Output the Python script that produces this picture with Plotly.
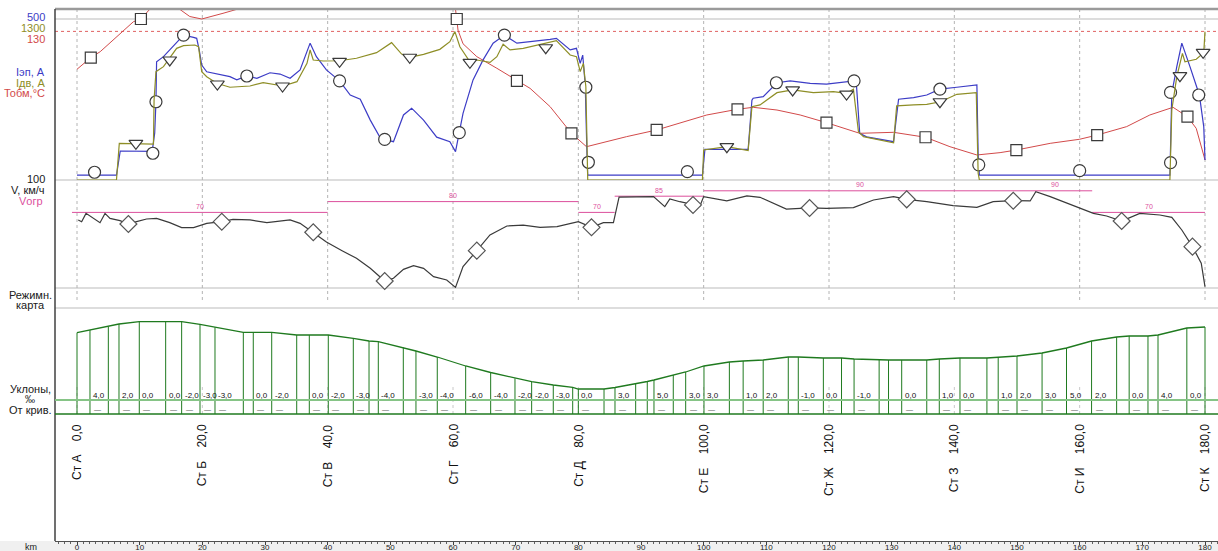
import plotly.graph_objects as go

# ---------------- data ----------------
# Iэп, A (electric locomotive current) vs km
iep_km = [0, 6.3, 6.9, 11.65, 12.0, 12.4, 12.6, 12.7, 13.8, 14.8, 16.2, 17.0, 18.6, 19.1, 19.5, 19.9,
          20.7, 22.3, 24.4, 25.5, 27.1, 28.7, 30.8, 32.4, 34.0, 35.6, 37.2, 38.2, 39.8, 41.9, 43.6,
          45.2, 46.8, 48.3, 49.1, 50.5, 52.1, 53.4, 55.3, 57.4, 59.5, 60.4, 61.0, 61.6, 63.2, 64.8,
          66.4, 68.2, 70.2, 72.8, 75.5, 76.5, 78.7, 79.7, 80.3, 80.7, 81.1, 81.4, 81.5, 99.8, 100.2,
          103.7, 107.1, 107.7, 107.9, 109.5, 111.7, 113.8, 117.0, 119.6, 122.3, 124.0, 124.4, 124.9,
          126.0, 130.3, 131.1, 133.5, 135.6, 137.7, 140.4, 143.6, 143.8, 144.0, 174.4, 174.7, 175.5,
          176.3, 177.6, 179.1, 179.8, 180]
iep_a = [15, 15, 90, 90, 89, 146, 243, 367, 383, 404, 435, 450, 443, 440, 404, 357,
         336, 329, 321, 311, 323, 316, 333, 329, 316, 342, 425, 383, 342, 308, 264,
         251, 186, 134, 126, 119, 202, 223, 186, 133, 119, 88, 147, 207, 311, 373,
         425, 450, 425, 430, 437, 440, 404, 409, 362, 388, 295, 62, 15, 15, 95,
         95, 95, 248, 254, 259, 302, 308, 300, 298, 305, 308, 290, 145,
         134, 119, 251, 256, 264, 282, 288, 295, 78, 15, 15, 269, 352,
         425, 352, 264, 166, 62]

# Iдв, A (traction motor current)
idv_km = [0, 6.3, 6.75, 11.65, 12.2, 12.3, 12.6, 13.8, 14.8, 15.9, 17.0, 18.8, 19.4, 19.9, 20.7,
          22.3, 24.4, 27.6, 29.7, 32.9, 35.1, 36.7, 37.2, 37.7, 39.3, 41.9, 44.6, 47.8, 50.2, 51.8,
          53.1, 55.3, 57.9, 59.5, 60.3, 61.1, 62.7, 63.8, 65.9, 67.0, 68.0, 69.1, 71.2, 74.8, 76.5,
          78.7, 79.7, 80.3, 80.8, 81.2, 81.5, 99.8, 100.0, 103.7, 107.1, 107.7, 109.0, 111.7, 114.2,
          117.5, 120.7, 122.8, 123.9, 124.7, 125.5, 130.3, 130.8, 133.5, 135.6, 137.8, 140.4, 143.5,
          143.8, 144.0, 174.4, 174.7, 175.5, 176.4, 176.8, 178.6, 179.8, 180]
idv_a = [0, 0, 296, 291, 290, 646, 875, 915, 983, 1063, 1085, 1090, 1076, 875, 834,
         781, 749, 759, 786, 759, 794, 942, 1050, 969, 961, 963, 983, 1028, 1109, 1017,
         991, 1015, 1055, 1117, 1198, 1076, 955, 969, 950, 996, 1096, 1050, 1063, 1104, 1125,
         1009, 996, 875, 942, 753, 0, 0, 242, 269, 237, 592, 606, 705, 727,
         705, 713, 700, 732, 390, 350, 301, 598, 606, 611, 632, 692, 705,
         54, 0, 0, 565, 834, 1023, 955, 975, 1028, 1198]

# Тобм, °C (winding temperature)
t_km = [0, 2.2, 3.7, 6.3, 9.0, 10.2, 11.6, 12.8, 14.5, 16.4, 18.0, 19.9, 21.5, 23.3, 25.5, 30.0,
        40.0, 50.0, 58.0, 60.4, 60.6, 60.8, 61.6, 63.8, 67.0, 70.2, 72.3, 75.5, 78.9, 81.3, 87.7,
        92.5, 100.5, 105.4, 107.9, 111.7, 115.4, 119.6, 124.9, 130.3, 135.4, 139.3, 143.6, 147.3,
        149.9, 155.3, 160.0, 162.8, 167.5, 171.2, 174.9, 177.2, 178.6, 180]
t_c = [89.4, 98.8, 103.6, 115.7, 127.8, 130.0, 137.8, 146, 148, 137.8, 132, 130.0, 132, 134.6, 137.8, 150,
       160, 160, 155, 137.8, 130.0, 121, 110, 99.6, 90.2, 80.0, 74.0, 59.2, 37.7, 26.9, 35.0,
       40.4, 52.5, 57.1, 58.7, 56.5, 52.5, 46.3, 37.7, 38.5, 34.5, 26.9, 20.2, 22.1,
       24.2, 29.6, 32.9, 36.3, 43.1, 52.5, 58.7, 51.1, 41.7, 16.2]
t_limit = 120

# V, km/h (speed)
v_km = [0.2, 0.74, 1.44, 2.6, 3.67, 4.47, 5.27, 6.86, 8.19, 9.5, 11.1, 12.7, 14.8, 16.7, 18.6, 20.7,
        23.1, 24.9, 27.6, 30.3, 31.9, 34.0, 35.6, 37.7, 39.8, 42.3, 44.6, 46.8, 49.1, 50.5, 52.1,
        53.7, 55.3, 56.9, 59.0, 60.4, 61.6, 63.8, 65.9, 68.6, 71.2, 73.9, 76.6, 80.0, 82.1, 84.0,
        85.6, 86.5, 92.0, 93.8, 94.6, 96.2, 98.3, 99.4, 100.0, 101.5, 103.7, 106.9, 109.0, 113.2,
        116.9, 119.6, 123.9, 127.1, 130.3, 132.4, 135.6, 139.8, 143.6, 146.2, 149.4, 152.1, 153.0,
        155.3, 157.9, 160.3, 162.2, 164.3, 166.7, 169.6, 172.8, 174.7, 176.3, 178.0, 179.4, 180]
v_kmh = [63.0, 61.4, 69.1, 64.5, 60.5, 69.1, 64.5, 62.4, 59.3, 61.4, 63.9, 64.5, 60.5, 55.9, 55.9, 59.9,
         61.4, 63.6, 63.0, 60.5, 61.4, 63.0, 59.9, 51.6, 42.5, 34.5, 27.5, 18.2, 6.5, 9.0, 17.3,
         20.7, 18.2, 10.5, 7.4, 0.6, 19.8, 34.6, 49.1, 57.4, 58.3, 56.2, 56.8, 61.4, 56.2, 60.5,
         60.5, 84.2, 84.6, 75.3, 82.4, 79.9, 76.9, 75.9, 84.6, 83.0, 80.6, 85.2, 84.0, 73.1,
         74.1, 73.8, 74.4, 81.5, 84.6, 82.1, 79.9, 76.2, 74.7, 79.9, 80.9, 80.6, 89.2,
         84.6, 79.0, 73.8, 69.1, 66.7, 62.0, 69.1, 67.6, 65.4, 53.7, 38.3, 22.9, 1.2]

# marker points
circ_km = [2.8, 12.1, 12.6, 17.0, 27.1, 41.9, 49.1, 61.0, 68.2, 81.2, 81.6, 97.4, 111.6, 124.0,
           137.7, 143.9, 160.0, 174.5, 174.5, 179.0]
circ_a = [24, 83, 243, 450, 323, 308, 126, 147, 450, 288, 55, 26, 302, 308, 282, 47, 29, 54, 272, 264]
tri_km = [4.7, 9.4, 14.8, 22.4, 32.8, 41.9, 53.1, 62.7, 74.8, 83.0, 97.3, 103.7, 114.2, 122.8,
          137.7, 144.0, 160.0, 174.3, 176.0, 179.7]
tri_a = [-27, 296, 969, 775, 759, 958, 991, 950, 1068, -19, -22, 269, 727, 694, 632, -22, -22, -22, 842, 1031]
sq_km = [2.2, 10.2, 60.6, 70.2, 78.9, 92.5, 105.4, 119.6, 135.4, 149.9, 162.8, 177.2]
sq_c = [98.8, 130.0, 130.0, 80.0, 37.7, 40.4, 57.1, 46.3, 34.5, 24.2, 36.3, 51.1]
dia_km = [8.2, 23.1, 37.7, 49.1, 63.8, 82.1, 98.3, 116.9, 132.4, 149.4, 166.7, 178.0]
dia_v = [59.3, 61.4, 51.6, 6.5, 34.6, 56.2, 76.9, 74.1, 82.1, 80.8, 62.0, 38.3]

# speed limits (Vогр)
lim_start = [-0.8, 40, 80, 85.8, 100, 150, 162]
lim_end = [40, 80, 85.8, 100, 150, 162, 180]
lim_val = [70, 80, 70, 85, 90, 90, 70]

# track profile: break points (km) and relative elevation (m)
prof_km = [0, 2.07, 5.0, 6.7, 9.94, 14.15, 16.7, 19.63, 22.02, 26.54, 28.13, 31.07, 35.06, 37.07,
           40.1, 44.09, 46.6, 48.08, 52.07, 54.09, 57.49, 62.02, 66.01, 69.89, 72.55, 76.0, 79.1,
           80.0, 84.1, 85.85, 89.15, 91.0, 92.07, 95.15, 97.13, 100.05, 104.1, 106.3, 109.5, 113.5,
           115.1, 119.1, 122.0, 124.0, 128.0, 129.5, 131.6, 135.6, 137.6, 140.9, 145.2, 147.0,
           150.0, 154.0, 157.9, 161.9, 165.9, 167.9, 170.9, 172.5, 177.1, 180]
prof_h = [167.3, 170, 173.3, 176, 178.3, 178.3, 178.3, 175.7, 172.7, 167.7, 167.7, 167.7, 165, 165,
          165, 161.7, 159, 158.3, 152.5, 149, 143, 134, 127.5, 121.7, 118.3, 115, 112.7,
          111, 111, 112.5, 116, 118.5, 120, 125, 128, 134, 138, 139, 140, 143,
          143, 142, 142, 141, 140, 140, 140, 140, 141, 142, 142, 143,
          144, 147, 152, 159, 163, 164, 164, 165, 172, 173]
# grade (‰) of each segment between break points; None = not labelled
grade_val = [None, 4, None, 2, 0, 0, -2, -3, -3, None, 0, -2, None, 0, -2, -3, None, -4, None, -3,
             -4, -6, -4, -2, -2, -3, None, 0, None, 3, None, None, 5, None, 3, 3, None, 1, 2, None,
             -1, 0, None, -1, None, None, 0, None, 1, 0, None, 1, 2, 3, 5, 2, None, 0, None, 4, 0]

# stations
st_names = ["Ст А", "Ст Б", "Ст В", "Ст Г", "Ст Д", "Ст Е", "Ст Ж", "Ст З", "Ст И", "Ст К"]
st_km = [0, 20, 40, 60, 80, 100, 120, 140, 160, 180]

# ---------------- layout helpers ----------------
W, H = 1218, 551
KM0_PX, PX_PER_KM, LEFT_PX = 77, 1128 / 180, 55


def py(p):
    return 1 - p / H


def pxp(p):
    return p / W


FONT = "Liberation Sans, Arial, sans-serif"
BLUE, OLIVE, RED = "#3c3cc6", "#8e8e26", "#d24a4a"
MAG, GREEN, LGREEN, DARK = "#dc4f9c", "#1f7a1f", "#86c486", "#3a3a3a"

fig = go.Figure()

# temperature (y), Iэп (y2), Iдв (y3)
fig.add_trace(go.Scatter(x=t_km, y=t_c, mode="lines", line=dict(color=RED, width=1), yaxis="y",
                         hoverinfo="skip"))
fig.add_trace(go.Scatter(x=sq_km, y=sq_c, mode="markers", yaxis="y", cliponaxis=False,
                         marker=dict(symbol="square", size=11, color="white",
                                     line=dict(color=DARK, width=1.2))))
fig.add_trace(go.Scatter(x=idv_km, y=idv_a, mode="lines", line=dict(color=OLIVE, width=1.2),
                         yaxis="y3"))
fig.add_trace(go.Scatter(x=tri_km, y=tri_a, mode="markers", yaxis="y3", cliponaxis=False,
                         marker=dict(symbol="triangle-down", size=12, color="white",
                                     line=dict(color=DARK, width=1.2))))
fig.add_trace(go.Scatter(x=iep_km, y=iep_a, mode="lines", line=dict(color=BLUE, width=1.2),
                         yaxis="y2"))
fig.add_trace(go.Scatter(x=circ_km, y=circ_a, mode="markers", yaxis="y2", cliponaxis=False,
                         marker=dict(symbol="circle", size=12, color="white",
                                     line=dict(color=DARK, width=1.2))))

# speed limits
lx, ly = [], []
for s, e, v in zip(lim_start, lim_end, lim_val):
    lx += [s, e, None]
    ly += [v, v, None]
fig.add_trace(go.Scatter(x=lx, y=ly, mode="lines", line=dict(color=MAG, width=1), yaxis="y4"))
# speed
fig.add_trace(go.Scatter(x=v_km, y=v_kmh, mode="lines", line=dict(color=DARK, width=1.2), yaxis="y4"))
fig.add_trace(go.Scatter(x=dia_km, y=dia_v, mode="markers", yaxis="y4", cliponaxis=False,
                         marker=dict(symbol="diamond", size=13, color="white",
                                     line=dict(color="#555555", width=1.2))))

# profile
vx, vy = [], []
for k, h in zip(prof_km, prof_h):
    vx += [k, k, None]
    vy += [h, 86, None]
fig.add_trace(go.Scatter(x=vx, y=vy, mode="lines", line=dict(color=GREEN, width=1), yaxis="y5",
                         cliponaxis=False))
fig.add_trace(go.Scatter(x=prof_km, y=prof_h, mode="lines", line=dict(color=GREEN, width=1.3),
                         yaxis="y5"))

shapes = []
# background band of the km axis
shapes.append(dict(type="rect", xref="paper", yref="paper", x0=0, x1=1, y0=0, y1=py(541),
                   fillcolor="#f0f0f0", line=dict(width=0), layer="below"))
# horizontal separators
for yy in (19, 180, 288, 308):
    shapes.append(dict(type="line", xref="paper", yref="paper", x0=pxp(LEFT_PX), x1=1,
                       y0=py(yy), y1=py(yy), line=dict(color="#d2d2d2", width=1.5), layer="below"))
shapes.append(dict(type="line", xref="paper", yref="paper", x0=pxp(LEFT_PX), x1=1,
                   y0=py(9), y1=py(9), line=dict(color="#9a9a9a", width=2.5)))
shapes.append(dict(type="line", xref="paper", yref="paper", x0=pxp(LEFT_PX), x1=pxp(LEFT_PX),
                   y0=py(541), y1=py(9), line=dict(color="#404040", width=1.5)))
# grade rows
shapes.append(dict(type="line", xref="paper", yref="paper", x0=pxp(LEFT_PX), x1=1,
                   y0=py(400), y1=py(400), line=dict(color=LGREEN, width=2)))
shapes.append(dict(type="line", xref="paper", yref="paper", x0=pxp(LEFT_PX), x1=1,
                   y0=py(414), y1=py(414), line=dict(color=GREEN, width=1.5)))
# temperature limit
shapes.append(dict(type="line", xref="paper", yref="y", x0=pxp(LEFT_PX), x1=1,
                   y0=t_limit, y1=t_limit, line=dict(color="#e06060", width=1, dash="3px,3px"),
                   layer="below"))
# vertical km grid every 20 km
for k in st_km:
    shapes.append(dict(type="line", xref="x", yref="paper", x0=k, x1=k, y0=py(300), y1=py(10),
                       line=dict(color="#b4b4b4", width=1, dash="3px,3px"), layer="below"))
    shapes.append(dict(type="line", xref="x", yref="paper", x0=k, x1=k, y0=py(414), y1=py(385),
                       line=dict(color="#c8c8c8", width=1, dash="3px,3px"), layer="below"))

ann = []


def lab(text, y, color, x=47, anchor="right", size=11):
    ann.append(dict(text=text, x=pxp(x), y=py(y), xref="paper", yref="paper", xanchor=anchor,
                    yanchor="middle", showarrow=False, font=dict(family=FONT, size=size, color=color)))


lab("500", 17, BLUE)
lab("1300", 28, OLIVE)
lab("130", 39, RED)
lab("Iэп, А", 72, BLUE)
lab("Iдв, А", 83, OLIVE)
lab("Тобм,°С", 93, RED)
lab("100", 179, "#202020")
lab("V, км/ч", 190, "#202020")
lab("Vогр", 201, MAG, x=45)
lab("Режимн.", 295, "#202020", x=30, anchor="center")
lab("карта", 305, "#202020", x=30, anchor="center")
lab("Уклоны,", 389, "#202020", x=30, anchor="center")
lab("‰", 399, "#202020", x=30, anchor="center", size=10)
lab("От крив.", 410, "#202020", x=30, anchor="center")
lab("km", 547, "#202020", x=31, anchor="center", size=9)

# speed limit values
for s, e, v in zip(lim_start, lim_end, lim_val):
    ann.append(dict(text=str(v), x=(s + e) / 2, y=v, xref="x", yref="y4", yshift=6,
                    showarrow=False, font=dict(family=FONT, size=7, color=MAG)))

# grade values and curve dashes
for k, g in zip(prof_km[:-1], grade_val):
    if g is None:
        continue
    ann.append(dict(text=f"{g:.1f}".replace(".", ","), x=k, y=py(395), xref="x", yref="paper",
                    xanchor="left", yanchor="middle", xshift=1, showarrow=False,
                    font=dict(family=FONT, size=8, color="#111111")))
    ann.append(dict(text="—", x=k, y=py(409), xref="x", yref="paper",
                    xanchor="left", yanchor="middle", xshift=2, showarrow=False,
                    font=dict(family=FONT, size=7, color="#606060")))

# stations
for n, k in zip(st_names, st_km):
    txt = n + "\u00a0" * 4 + f"{k:.1f}".replace(".", ",")
    ann.append(dict(text=txt, x=k, y=py(422), xref="x", yref="paper", xanchor="center",
                    yanchor="top", textangle=-90, showarrow=False,
                    font=dict(family=FONT, size=12, color="#111111")))

hidden = dict(visible=False, showgrid=False, zeroline=False, fixedrange=True)
fig.update_layout(
    width=W, height=H, margin=dict(l=0, r=0, t=0, b=0),
    paper_bgcolor="white", plot_bgcolor="white", showlegend=False,
    font=dict(family=FONT, size=10, color="#222222"),
    xaxis=dict(domain=[pxp(LEFT_PX), 1],
               range=[-(KM0_PX - LEFT_PX) / PX_PER_KM, (W - KM0_PX) / PX_PER_KM],
               anchor="free", position=py(541), showline=True, linecolor="#505050", linewidth=1,
               ticks="outside", ticklen=3, tickcolor="#404040", tick0=0, dtick=10,
               ticklabelstandoff=-5,
               tickfont=dict(size=8, color="#222222"), showgrid=False, zeroline=False,
               minor=dict(ticks="outside", dtick=1, ticklen=2, tickcolor="#606060", showgrid=False)),
    yaxis=dict(domain=[py(180), py(9)], range=[0, 130 * 171 / 161], anchor="free",
               position=pxp(LEFT_PX), **hidden),
    yaxis2=dict(overlaying="y", range=[0, 500 * 171 / 161], anchor="free", position=pxp(LEFT_PX), **hidden),
    yaxis3=dict(overlaying="y", range=[0, 1300 * 171 / 161], anchor="free", position=pxp(LEFT_PX), **hidden),
    yaxis4=dict(domain=[py(288), py(180)], range=[0, 100], anchor="free", position=pxp(LEFT_PX), **hidden),
    yaxis5=dict(domain=[py(414), py(308)], range=[86, 192], anchor="free", position=pxp(LEFT_PX), **hidden),
    shapes=shapes, annotations=ann,
)

fig.write_html("out.html", config={"displayModeBar": False},
               post_script="document.body.style.margin='0';document.body.style.overflow='hidden';")
